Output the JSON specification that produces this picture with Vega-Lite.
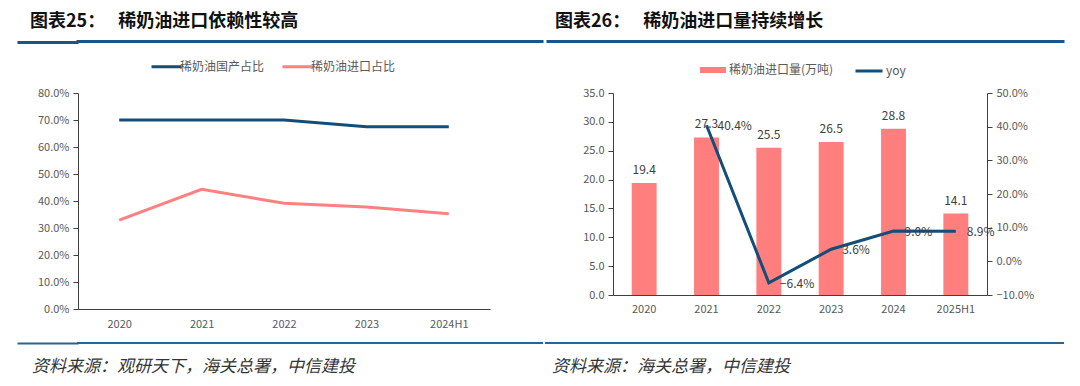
{
  "$schema": "https://vega.github.io/schema/vega-lite/v6.json",
  "padding": {"left": 15, "top": 13, "right": 5, "bottom": 10},
  "background": "white",
  "config": {
    "font": "Noto Sans CJK SC",
    "view": {"stroke": null},
    "axis": {"labelFont": "Noto Sans CJK SC", "labelFontSize": 11, "labelColor": "#595959", "domainColor": "#404040", "tickColor": "#404040", "grid": false, "title": null},
    "legend": {"labelFont": "Noto Sans CJK SC", "labelFontSize": 12, "labelColor": "#595959", "title": null, "padding": 0}
  },
  "datasets": {
    "share": [
      {"period": "2020", "series": "稀奶油国产占比", "value": 0.70},
      {"period": "2021", "series": "稀奶油国产占比", "value": 0.70},
      {"period": "2022", "series": "稀奶油国产占比", "value": 0.70},
      {"period": "2023", "series": "稀奶油国产占比", "value": 0.675},
      {"period": "2024H1", "series": "稀奶油国产占比", "value": 0.675},
      {"period": "2020", "series": "稀奶油进口占比", "value": 0.329},
      {"period": "2021", "series": "稀奶油进口占比", "value": 0.443},
      {"period": "2022", "series": "稀奶油进口占比", "value": 0.392},
      {"period": "2023", "series": "稀奶油进口占比", "value": 0.378},
      {"period": "2024H1", "series": "稀奶油进口占比", "value": 0.353}
    ],
    "imports": [
      {"period": "2020", "volume": 19.4, "yoy": null},
      {"period": "2021", "volume": 27.3, "yoy": 0.404},
      {"period": "2022", "volume": 25.5, "yoy": -0.064},
      {"period": "2023", "volume": 26.5, "yoy": 0.036},
      {"period": "2024", "volume": 28.8, "yoy": 0.090},
      {"period": "2025H1", "volume": 14.1, "yoy": 0.089}
    ],
    "one": [{"k": 1}]
  },
  "columns": 1,
  "align": "none",
  "spacing": 6,
  "resolve": {"legend": {"color": "independent", "fill": "independent", "stroke": "independent"}},
  "concat": [
    {
      "spacing": 0,
      "hconcat": [
        {
          "width": 464, "height": 3,
          "title": {"text": "图表25： \u2002稀奶油进口依赖性较高", "anchor": "start", "frame": "group", "dx": -48, "fontSize": 18, "fontWeight": "bold", "color": "#111111", "offset": 8},
          "data": {"name": "one"},
          "mark": {"type": "rule", "strokeWidth": 3, "strokeCap": "square", "color": "#1A5488"},
          "encoding": {
            "y": {"datum": 0.5, "type": "quantitative", "scale": {"domain": [0, 1]},
                  "axis": {"values": [0.5], "labels": false, "domain": false, "ticks": true, "tickSize": 61, "tickWidth": 3, "tickColor": "#1A5488", "minExtent": 61, "maxExtent": 61, "labelPadding": 0}}
          }
        },
        {
          "width": 515, "height": 3,
          "title": {"text": "图表26： \u2002稀奶油进口量持续增长", "anchor": "start", "frame": "group", "dx": 7, "fontSize": 18, "fontWeight": "bold", "color": "#111111", "offset": 8},
          "data": {"name": "one"},
          "mark": {"type": "rule", "strokeWidth": 3, "strokeCap": "square", "color": "#1A5488"},
          "encoding": {
            "y": {"datum": 0.5, "type": "quantitative", "scale": {"domain": [0, 1]}, "axis": null}
          }
        }
      ]
    },
    {
      "spacing": 83,
      "resolve": {"legend": {"color": "independent", "fill": "independent", "stroke": "independent"}},
      "hconcat": [
        {
          "width": 412, "height": 216,
          "data": {"name": "share"},
          "mark": {"type": "line", "strokeWidth": 3},
          "encoding": {
            "x": {"field": "period", "type": "ordinal", "sort": null, "scale": {"type": "point", "padding": 0.5},
                  "axis": {"labelAngle": 0, "ticks": false, "tickSize": 0, "labelPadding": 9}},
            "y": {"field": "value", "type": "quantitative", "scale": {"domain": [0, 0.8]},
                  "axis": {"values": [0, 0.1, 0.2, 0.3, 0.4, 0.5, 0.6, 0.7, 0.8], "format": ".1%", "tickSize": 5, "labelPadding": 4, "minExtent": 61}},
            "color": {"field": "series", "type": "nominal",
                      "scale": {"domain": ["稀奶油国产占比", "稀奶油进口占比"], "range": ["#124E78", "#FF8080"]},
                      "legend": {"orient": "none", "legendX": 72, "legendY": -43, "direction": "horizontal", "symbolType": "stroke", "symbolStrokeWidth": 3, "symbolSize": 900, "columnPadding": 11, "labelOffset": -3}}
          }
        },
        {
          "width": 374, "height": 202,
          "data": {"name": "imports"},
          "encoding": {
            "x": {"field": "period", "type": "ordinal", "sort": null, "scale": {"paddingInner": 0.6, "paddingOuter": 0.3},
                  "axis": {"labelAngle": 0, "ticks": false, "tickSize": 0, "labelPadding": 8}}
          },
          "layer": [
            {
              "encoding": {
                "y": {"field": "volume", "type": "quantitative", "scale": {"domain": [0, 35]},
                      "axis": {"values": [0, 5, 10, 15, 20, 25, 30, 35], "format": ".1f", "tickSize": 5, "labelPadding": 4, "minExtent": 40}}
              },
              "layer": [
                {
                  "mark": {"type": "bar"},
                  "encoding": {
                    "fill": {"datum": "稀奶油进口量(万吨)", "scale": {"range": ["#FF7F7F"]},
                             "legend": {"orient": "none", "legendX": 86, "legendY": -37, "direction": "horizontal", "symbolType": "M-1,-0.23H1V0.23H-1Z", "symbolSize": 676, "labelOffset": 2}}
                  }
                },
                {
                  "mark": {"type": "text", "dy": -13, "fontSize": 12, "color": "#404040"},
                  "encoding": {
                    "text": {"field": "volume", "type": "quantitative", "format": ".1f"}
                  }
                }
              ]
            },
            {
              "encoding": {
                "y": {"field": "yoy", "type": "quantitative", "scale": {"domain": [-0.1, 0.5]},
                      "axis": {"orient": "right", "values": [-0.1, 0, 0.1, 0.2, 0.3, 0.4, 0.5], "format": ".1%", "tickSize": 5, "labelPadding": 4}}
              },
              "layer": [
                {
                  "mark": {"type": "line", "strokeWidth": 3},
                  "encoding": {
                    "stroke": {"datum": "yoy", "scale": {"range": ["#124E78"]},
                               "legend": {"orient": "none", "legendX": 241, "legendY": -37, "direction": "horizontal", "symbolType": "stroke", "symbolStrokeWidth": 3, "symbolSize": 729, "labelOffset": 2}}
                  }
                },
                {
                  "transform": [{"filter": "isValid(datum.yoy)"}],
                  "mark": {"type": "text", "align": "left", "dx": 11, "dy": 1, "fontSize": 12, "color": "#404040"},
                  "encoding": {
                    "text": {"field": "yoy", "type": "quantitative", "format": ".1%"}
                  }
                }
              ]
            }
          ],
          "resolve": {"scale": {"y": "independent"}}
        }
      ]
    },
    {
      "spacing": 0,
      "hconcat": [
        {
          "width": 464, "height": 8,
          "title": {"text": "资料来源：观研天下，海关总署，中信建投", "orient": "bottom", "anchor": "start", "frame": "group", "dx": -46, "fontSize": 17, "fontWeight": "normal", "fontStyle": "italic", "color": "#333333", "offset": 15},
          "data": {"name": "one"},
          "mark": {"type": "rule", "strokeWidth": 2, "strokeCap": "square", "color": "#2A6496"},
          "encoding": {
            "y": {"datum": 0, "type": "quantitative", "scale": {"domain": [0, 1]},
                  "axis": {"values": [0], "labels": false, "domain": false, "ticks": true, "tickSize": 61, "tickWidth": 2, "tickColor": "#2A6496", "minExtent": 61, "maxExtent": 61, "labelPadding": 0}}
          }
        },
        {
          "width": 517, "height": 8,
          "title": {"text": "资料来源：海关总署，中信建投", "orient": "bottom", "anchor": "start", "frame": "group", "dx": 6, "fontSize": 17, "fontWeight": "normal", "fontStyle": "italic", "color": "#333333", "offset": 15},
          "data": {"name": "one"},
          "mark": {"type": "rule", "strokeWidth": 2, "strokeCap": "square", "color": "#2A6496"},
          "encoding": {
            "y": {"datum": 0, "type": "quantitative", "scale": {"domain": [0, 1]}, "axis": null}
          }
        }
      ]
    }
  ]
}
